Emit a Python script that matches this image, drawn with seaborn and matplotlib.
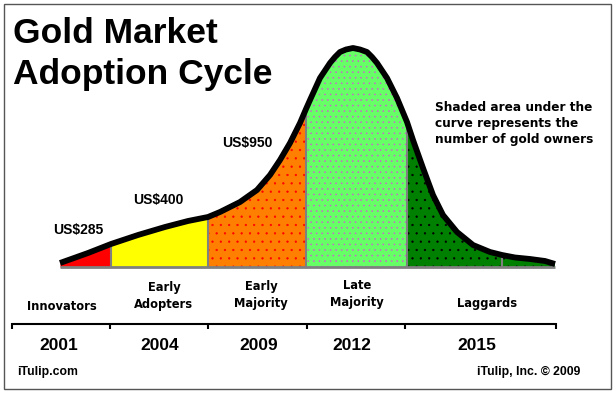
import matplotlib

matplotlib.use("Agg")
import matplotlib.pyplot as plt
import numpy as np
import seaborn as sns
from matplotlib.patches import Rectangle

# adoption curve: position along the cycle, height above the baseline
curve_x = [60, 88, 111, 138, 165, 188, 208, 220, 240, 257, 270, 280, 290, 300, 306, 310,
           320, 330, 335, 340, 346, 353, 360, 367, 372, 377, 387, 397, 407, 413, 423,
           433, 443, 457, 473, 490, 502, 515, 530, 545, 555]
curve_h = [4, 14, 23, 32, 40, 46, 50, 55, 65, 77, 92, 107, 124, 144, 158, 167,
           189, 204, 210, 215, 217.5, 219, 217.5, 215, 210, 204, 189, 169, 145, 127, 99,
           72, 52, 35, 22, 15, 12, 9.5, 8, 6, 3]

# segments of the cycle
seg_bounds = [60, 111, 208, 306, 407, 502, 555]
seg_colors = ["#ff0000", "#ffff00", "#ff8000", "#66ff66", "#008000", "#008000"]
seg_dots = [None, None, "#ff0000", "#cc66cc", "#000000", "#000000"]
seg_hatch = [None, None, "..", "...", "..", ".."]

groups = ["Innovators", "Early\nAdopters", "Early\nMajority", "Late\nMajority", "Laggards"]
years = ["2001", "2004", "2009", "2012", "2015"]
year_ticks = [12, 110, 208, 307, 405, 556]
prices = ["US$285", "US$400", "US$950"]

sns.set_theme(style="white")
plt.rcParams["font.family"] = ["Liberation Sans", "DejaVu Sans"]
plt.rcParams["text.color"] = "black"
plt.rcParams["hatch.linewidth"] = 0.4

fig = plt.figure(figsize=(6.16, 3.94), dpi=100)
ax = fig.add_axes([0, 0, 1, 1])

BASE = 267
x = np.array(curve_x)
y = BASE - np.array(curve_h)

# shaded segments under the curve
for i, c in enumerate(seg_colors):
    a, b = seg_bounds[i], seg_bounds[i + 1]
    m = (x >= a) & (x <= b)
    dots = seg_dots[i]
    ax.fill_between(x, BASE, y, where=m, facecolor=c,
                    edgecolor=dots if dots else c,
                    hatch=seg_hatch[i], linewidth=0, zorder=1)

for b in seg_bounds[1:-1]:
    ax.vlines(b, BASE, y[curve_x.index(b)], color="#808080", lw=1.5, zorder=2)
ax.hlines(BASE, seg_bounds[0], seg_bounds[-1], color="#808080", lw=2, zorder=2)

sns.lineplot(x=x, y=y, ax=ax, color="black", linewidth=4.2, zorder=3,
             solid_capstyle="butt", solid_joinstyle="round")

# timeline
ax.hlines(324, year_ticks[0], year_ticks[-1], color="black", lw=1.5)
ax.vlines(year_ticks, 323, 329, color="black", lw=1.5)

year_pos = [59, 160, 259, 352, 477]
for yr, xp in zip(years, year_pos):
    ax.text(xp, 346, yr, ha="center", va="center", fontsize=12.5, fontweight="bold")

group_pos = [(62, 306), (164, 296), (261, 295), (357, 294), (487, 304)]
for g, (xp, yp) in zip(groups, group_pos):
    ax.text(xp, yp, g, ha="center", va="center", fontsize=8.3, fontweight="bold",
            family="DejaVu Sans", linespacing=1.45)

price_pos = [(78, 230), (158, 200), (247, 143)]
for p, (xp, yp) in zip(prices, price_pos):
    ax.text(xp, yp, p, ha="center", va="center", fontsize=10, fontweight="bold")

# title
ax.text(13, 43, "Gold Market", ha="left", va="baseline", fontsize=25.5, fontweight="bold")
ax.text(13, 84, "Adoption Cycle", ha="left", va="baseline", fontsize=25.5, fontweight="bold")

ax.text(435, 123, "Shaded area under the\ncurve represents the\nnumber of gold owners",
        ha="left", va="center", fontsize=8.7, fontweight="bold", family="DejaVu Sans",
        linespacing=1.3)

ax.text(17, 372, "iTulip.com", ha="left", va="center", fontsize=8.8, fontweight="bold")
ax.text(580, 372, "iTulip, Inc. \u00a9 2009", ha="right", va="center", fontsize=8.8,
        fontweight="bold")

ax.add_patch(Rectangle((4, 4), 607, 385, fill=False, edgecolor="#555555", lw=1))

ax.set_xlim(0, 616)
ax.set_ylim(394, 0)
ax.axis("off")

fig.savefig("out.png", dpi=100)
